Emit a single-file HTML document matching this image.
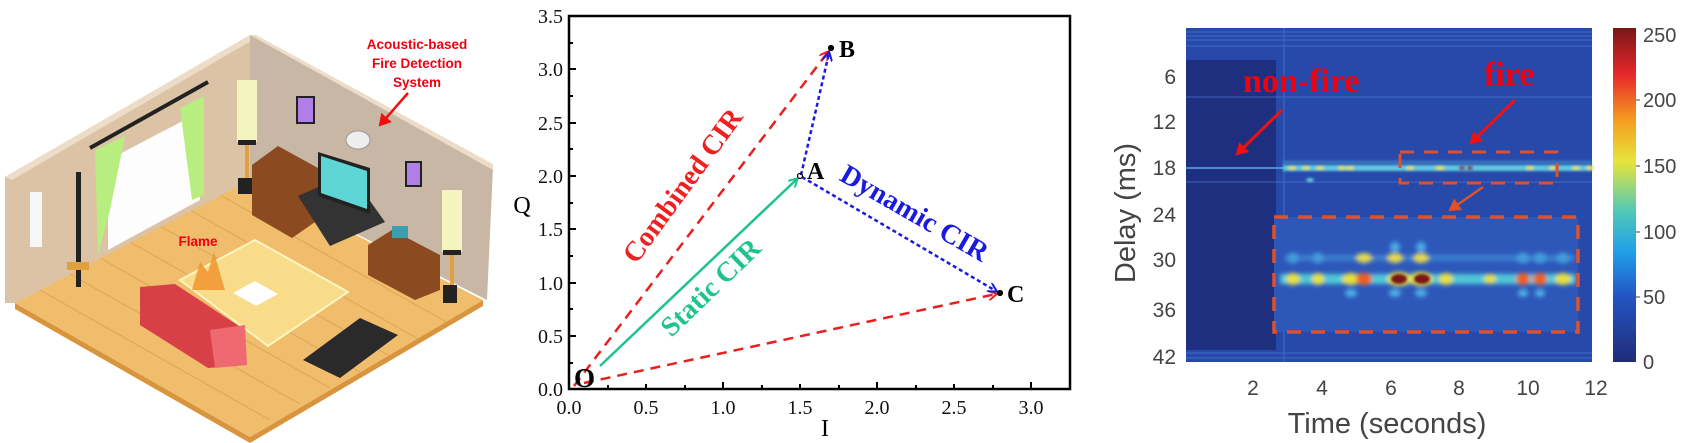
<!DOCTYPE html>
<html><head><meta charset="utf-8"><style>
html,body{margin:0;padding:0;background:#fff;}
svg{display:block;}
</style></head><body>
<svg width="1693" height="443" viewBox="0 0 1693 443" xmlns="http://www.w3.org/2000/svg">
<defs>
<filter id="bl" x="-50%" y="-50%" width="200%" height="200%"><feGaussianBlur stdDeviation="2.2"/></filter>
<filter id="bl1" x="-50%" y="-50%" width="200%" height="200%"><feGaussianBlur stdDeviation="1.2"/></filter>
<linearGradient id="cb" x1="0" y1="1" x2="0" y2="0">
<stop offset="0" stop-color="#202c78"/><stop offset="0.2" stop-color="#2356c4"/><stop offset="0.33" stop-color="#20a0e8"/><stop offset="0.45" stop-color="#50c8b8"/><stop offset="0.6" stop-color="#e6e43c"/><stop offset="0.72" stop-color="#f5a020"/><stop offset="0.86" stop-color="#e8282a"/><stop offset="1" stop-color="#7a1618"/>
</linearGradient>
<marker id="ar" markerWidth="10" markerHeight="10" refX="8" refY="5" orient="auto" markerUnits="userSpaceOnUse"><path d="M0,0 L9,5 L0,10" fill="none" stroke="#e8201e" stroke-width="2"/></marker>
<marker id="ab" markerWidth="10" markerHeight="10" refX="8" refY="5" orient="auto" markerUnits="userSpaceOnUse"><path d="M0,0 L9,5 L0,10" fill="none" stroke="#1a1ae0" stroke-width="2"/></marker>
<marker id="ag" markerWidth="10" markerHeight="10" refX="8" refY="5" orient="auto" markerUnits="userSpaceOnUse"><path d="M0,0 L9,5 L0,10" fill="none" stroke="#1ec48a" stroke-width="2"/></marker>
<marker id="arr" markerWidth="14" markerHeight="14" refX="10" refY="7" orient="auto" markerUnits="userSpaceOnUse"><path d="M0,0 L12,7 L0,14 Z" fill="#f01010"/></marker>
<marker id="aro" markerWidth="14" markerHeight="14" refX="10" refY="7" orient="auto" markerUnits="userSpaceOnUse"><path d="M0,0 L12,7 L0,14 Z" fill="#e0502a"/></marker>
</defs>

<!-- ===== LEFT ROOM ===== -->
<g>
<polygon points="15,303 250,437 483,300 483,306 250,443 15,309" fill="#d9953e"/>
<polygon points="15,303 248,180 483,300 250,437" fill="#f0bd6c"/>
<g stroke="#d8a050" stroke-width="1" opacity="0.8">
<line x1="40" y1="290" x2="270" y2="420"/><line x1="70" y1="274" x2="300" y2="404"/><line x1="100" y1="258" x2="330" y2="388"/><line x1="130" y1="242" x2="360" y2="372"/><line x1="160" y1="226" x2="390" y2="356"/><line x1="190" y1="210" x2="420" y2="340"/><line x1="220" y1="195" x2="450" y2="324"/>
</g>
<polygon points="5,177 250,35 250,180 15,303 5,303" fill="#dcc3a6"/>
<polygon points="5,177 250,35 256,38 12,180" fill="#ecdcc8"/>
<polygon points="250,35 493,167 487,300 250,180" fill="#c8b7a5"/>
<polygon points="250,35 256,35 493,164 493,170" fill="#ecdcc8"/>
<polygon points="108,160 200,112 200,200 108,250" fill="#fdfdfd"/>
<line x1="90" y1="148" x2="208" y2="82" stroke="#222" stroke-width="4"/>
<polygon points="95,150 125,136 110,210 98,255" fill="#b8ee80"/>
<polygon points="180,108 204,96 204,195 192,200" fill="#b8ee80"/>
<rect x="76" y="172" width="5" height="115" fill="#222"/>
<rect x="67" y="262" width="22" height="8" fill="#e0a040"/>
<rect x="30" y="192" width="12" height="55" fill="#f6f6f6"/>
<rect x="237" y="80" width="20" height="62" fill="#f4f4c0"/><rect x="238" y="140" width="18" height="5" fill="#222"/><rect x="245" y="145" width="4" height="35" fill="#e0a040"/><rect x="238" y="178" width="14" height="16" fill="#222"/>
<rect x="442" y="190" width="20" height="62" fill="#f4f4c0"/><rect x="443" y="250" width="18" height="5" fill="#222"/><rect x="450" y="255" width="4" height="30" fill="#e0a040"/><rect x="443" y="285" width="14" height="18" fill="#222"/>
<rect x="297" y="97" width="17" height="26" fill="#b07ee6" stroke="#222" stroke-width="2"/>
<rect x="406" y="162" width="15" height="24" fill="#b07ee6" stroke="#222" stroke-width="2"/>
<ellipse cx="358" cy="140" rx="12" ry="9" fill="#eee" stroke="#999"/>
<polygon points="252,165 278,146 318,168 318,220 292,238 252,215" fill="#8b4a1f"/>
<polygon points="368,245 392,230 440,255 440,290 415,300 368,275" fill="#8b4a1f"/>
<rect x="392" y="226" width="16" height="12" fill="#3aa0b0"/>
<polygon points="298,196 350,173 385,222 330,246" fill="#333"/>
<polygon points="318,152 370,168 370,214 318,196" fill="#222"/>
<polygon points="321,156 367,171 367,209 321,193" fill="#5fd6d6"/>
<polygon points="180,280 255,240 348,292 268,346" fill="#f8dc8a" stroke="#fff5c0" stroke-width="2"/>
<polygon points="233,293 255,281 278,294 256,306" fill="#fff"/>
<path d="M192,290 L200,262 L208,272 L214,252 L222,280 L225,290 Z" fill="#f0902a" opacity="0.8"/>
<polygon points="140,287 175,284 245,330 245,365 208,368 140,325" fill="#d84048"/>
<polygon points="210,330 245,325 247,365 215,368" fill="#ee6a70"/>
<polygon points="303,360 360,318 398,335 340,378" fill="#2a2a2a"/>
<g font-family="Liberation Sans, sans-serif" font-weight="bold" fill="#f00010" font-size="13.5" text-anchor="middle">
<text x="417" y="49">Acoustic-based</text>
<text x="417" y="68">Fire Detection</text>
<text x="417" y="87">System</text>
<text x="198" y="246">Flame</text>
</g>
<line x1="408" y1="93" x2="380" y2="125" stroke="#f01010" stroke-width="2.5" marker-end="url(#arr)"/>
</g>

<!-- ===== MIDDLE CHART ===== -->
<g font-family="Liberation Serif, serif">
<rect x="569" y="16" width="501" height="373" fill="none" stroke="#000" stroke-width="2.5"/>
<g stroke="#000" stroke-width="2">
<line x1="569" y1="389" x2="569" y2="382"/><line x1="646" y1="389" x2="646" y2="384"/><line x1="723" y1="389" x2="723" y2="382"/><line x1="800" y1="389" x2="800" y2="384"/><line x1="877" y1="389" x2="877" y2="382"/><line x1="954" y1="389" x2="954" y2="384"/><line x1="1031" y1="389" x2="1031" y2="382"/>
<line x1="608" y1="389" x2="608" y2="385"/><line x1="685" y1="389" x2="685" y2="385"/><line x1="762" y1="389" x2="762" y2="385"/><line x1="839" y1="389" x2="839" y2="385"/><line x1="916" y1="389" x2="916" y2="385"/><line x1="993" y1="389" x2="993" y2="385"/>
<line x1="569" y1="336" x2="576" y2="336"/><line x1="569" y1="283" x2="576" y2="283"/><line x1="569" y1="229" x2="576" y2="229"/><line x1="569" y1="176" x2="576" y2="176"/><line x1="569" y1="123" x2="576" y2="123"/><line x1="569" y1="69" x2="576" y2="69"/>
<line x1="569" y1="363" x2="573" y2="363"/><line x1="569" y1="309" x2="573" y2="309"/><line x1="569" y1="256" x2="573" y2="256"/><line x1="569" y1="203" x2="573" y2="203"/><line x1="569" y1="149" x2="573" y2="149"/><line x1="569" y1="96" x2="573" y2="96"/><line x1="569" y1="43" x2="573" y2="43"/>
</g>
<g font-size="20" text-anchor="middle" fill="#111">
<text x="569" y="414">0.0</text><text x="646" y="414">0.5</text><text x="723" y="414">1.0</text><text x="800" y="414">1.5</text><text x="877" y="414">2.0</text><text x="954" y="414">2.5</text><text x="1031" y="414">3.0</text>
</g>
<g font-size="20" text-anchor="end" fill="#111">
<text x="563" y="396">0.0</text><text x="563" y="343">0.5</text><text x="563" y="290">1.0</text><text x="563" y="236">1.5</text><text x="563" y="183">2.0</text><text x="563" y="130">2.5</text><text x="563" y="76">3.0</text><text x="563" y="23">3.5</text>
</g>
<text x="522" y="213" font-size="24" text-anchor="middle">Q</text>
<text x="825" y="436" font-size="24" text-anchor="middle">I</text>
<line x1="574" y1="386" x2="828" y2="52" stroke="#e8201e" stroke-width="2.5" stroke-dasharray="10,7" marker-end="url(#ar)"/>
<line x1="584" y1="383" x2="996" y2="294" stroke="#e8201e" stroke-width="2.5" stroke-dasharray="10,7" marker-end="url(#ar)"/>
<line x1="600" y1="366" x2="797" y2="179" stroke="#1ec48a" stroke-width="2.5" marker-end="url(#ag)"/>
<line x1="801" y1="175" x2="829" y2="53" stroke="#1a1ae0" stroke-width="2.5" stroke-dasharray="4,3" marker-end="url(#ab)"/>
<line x1="802" y1="177" x2="996" y2="291" stroke="#1a1ae0" stroke-width="2.5" stroke-dasharray="4,3" marker-end="url(#ab)"/>
<circle cx="800" cy="176" r="2.5" fill="none" stroke="#000" stroke-width="1.2"/>
<circle cx="831" cy="48" r="2.5" fill="#000" stroke="#000" stroke-width="1.2"/>
<circle cx="1000" cy="293" r="2.5" fill="#000" stroke="#000" stroke-width="1.2"/>
<g font-weight="bold" font-size="24" fill="#000">
<text x="574" y="387" font-size="27">O</text>
<text x="807" y="179">A</text>
<text x="839" y="57">B</text>
<text x="1007" y="302">C</text>
</g>
<text x="0" y="0" font-weight="bold" font-size="28" fill="#ee2020" text-anchor="middle" transform="translate(690,191) rotate(-54)">Combined CIR</text>
<text x="0" y="0" font-weight="bold" font-size="28" fill="#1ec48a" text-anchor="middle" transform="translate(717,294) rotate(-44)">Static CIR</text>
<text x="0" y="0" font-weight="bold" font-size="28" fill="#1a1ae0" text-anchor="middle" transform="translate(910,221) rotate(30)">Dynamic CIR</text>
</g>

<!-- ===== RIGHT HEATMAP ===== -->
<g>
<rect x="1186" y="28" width="406" height="334" fill="#2749aa"/>
<rect x="1186" y="60" width="90" height="290" fill="#1f2f80"/>
<g stroke="#4a78d0" stroke-width="1" opacity="0.7">
<line x1="1186" y1="32" x2="1592" y2="32"/><line x1="1186" y1="36" x2="1592" y2="36"/><line x1="1186" y1="40" x2="1592" y2="40"/><line x1="1186" y1="46" x2="1592" y2="46"/><line x1="1186" y1="97" x2="1592" y2="97"/><line x1="1186" y1="353" x2="1592" y2="353"/><line x1="1186" y1="358" x2="1592" y2="358"/><line x1="1186" y1="182" x2="1592" y2="182"/>
<line x1="1284" y1="28" x2="1284" y2="362"/>
</g>
<line x1="1186" y1="168" x2="1592" y2="168" stroke="#5aa8e8" stroke-width="1.5"/>
<g filter="url(#bl1)">
<rect x="1283" y="165" width="309" height="6" fill="#60c8e0"/>
<g fill="#e6e040">
<ellipse cx="1292" cy="168" rx="4" ry="2"/><ellipse cx="1306" cy="168" rx="4" ry="2"/><ellipse cx="1320" cy="168" rx="4" ry="2"/><ellipse cx="1342" cy="168" rx="4" ry="2"/><ellipse cx="1350" cy="168" rx="4" ry="2"/><ellipse cx="1410" cy="168" rx="4" ry="2"/><ellipse cx="1440" cy="168" rx="5" ry="2"/><ellipse cx="1530" cy="168" rx="4" ry="2"/><ellipse cx="1553" cy="168" rx="4" ry="2"/><ellipse cx="1576" cy="168" rx="4" ry="2"/><ellipse cx="1590" cy="168" rx="4" ry="2"/>
</g>
<ellipse cx="1462" cy="168" rx="3" ry="2" fill="#7a1618"/><ellipse cx="1470" cy="168" rx="3" ry="2" fill="#7a1618"/>
<rect x="1283" y="161" width="309" height="2" fill="#5ab0e0" opacity="0.6"/>
<ellipse cx="1310" cy="180" rx="4" ry="2" fill="#60d0e0"/>
</g>
<rect x="1274" y="217" width="304" height="115" fill="#2d58ba"/>
<g filter="url(#bl)">
<g fill="#50b8e8" opacity="0.9">
<ellipse cx="1395" cy="247" rx="5" ry="5"/><ellipse cx="1421" cy="247" rx="5" ry="5"/>
<ellipse cx="1293" cy="258" rx="6" ry="5"/><ellipse cx="1318" cy="258" rx="6" ry="5"/><ellipse cx="1523" cy="258" rx="7" ry="5"/><ellipse cx="1540" cy="258" rx="7" ry="5"/><ellipse cx="1563" cy="258" rx="7" ry="5"/>
<ellipse cx="1351" cy="293" rx="6" ry="4"/><ellipse cx="1395" cy="293" rx="6" ry="4"/><ellipse cx="1421" cy="293" rx="6" ry="4"/><ellipse cx="1523" cy="293" rx="5" ry="4"/><ellipse cx="1540" cy="293" rx="5" ry="4"/>
</g>
<rect x="1285" y="255" width="290" height="6" fill="#3f90d8" opacity="0.7"/>
<g fill="#e4d850">
<ellipse cx="1364" cy="258" rx="8" ry="5"/><ellipse cx="1395" cy="258" rx="8" ry="5"/><ellipse cx="1421" cy="258" rx="8" ry="5"/>
</g>
<rect x="1280" y="274" width="296" height="10" fill="#50c8d8"/>
<g fill="#e6e040">
<ellipse cx="1293" cy="279" rx="7" ry="6"/><ellipse cx="1318" cy="279" rx="6" ry="6"/><ellipse cx="1351" cy="279" rx="9" ry="6"/><ellipse cx="1446" cy="279" rx="7" ry="6"/><ellipse cx="1490" cy="279" rx="6" ry="5"/><ellipse cx="1563" cy="279" rx="8" ry="6"/>
</g>
<g fill="#f06020">
<ellipse cx="1364" cy="279" rx="8" ry="6"/><ellipse cx="1523" cy="279" rx="7" ry="6"/><ellipse cx="1540" cy="279" rx="7" ry="6"/>
</g>
<ellipse cx="1399" cy="279" rx="12" ry="7" fill="#e0e040"/><ellipse cx="1421" cy="279" rx="12" ry="7" fill="#e0e040"/>
</g>
<ellipse cx="1399" cy="279" rx="8" ry="5" fill="#7a1618" filter="url(#bl1)"/><ellipse cx="1422" cy="279" rx="8" ry="5" fill="#7a1618" filter="url(#bl1)"/>
<rect x="1400" y="152" width="157" height="31" fill="none" stroke="#e0502a" stroke-width="3" stroke-dasharray="14,10"/>
<rect x="1274" y="217" width="304" height="115" fill="none" stroke="#e0502a" stroke-width="3.5" stroke-dasharray="14,10"/>
<line x1="1483" y1="187" x2="1450" y2="210" stroke="#e0502a" stroke-width="2.5" marker-end="url(#aro)"/>
<g font-family="Liberation Serif, serif" font-weight="bold" fill="#f00010" font-size="34">
<text x="1243" y="92">non-fire</text>
<text x="1484" y="85">fire</text>
</g>
<line x1="1282" y1="110" x2="1237" y2="154" stroke="#f01010" stroke-width="3" marker-end="url(#arr)"/>
<line x1="1515" y1="100" x2="1471" y2="143" stroke="#f01010" stroke-width="3" marker-end="url(#arr)"/>
<rect x="1613" y="28" width="23" height="334" fill="url(#cb)"/>
<g stroke="#444" stroke-width="1"><line x1="1636" y1="100" x2="1640" y2="100"/><line x1="1636" y1="166" x2="1640" y2="166"/><line x1="1636" y1="232" x2="1640" y2="232"/><line x1="1636" y1="297" x2="1640" y2="297"/></g>
<g font-family="Liberation Sans, sans-serif" font-size="20" fill="#444">
<text x="1643" y="42">250</text><text x="1643" y="107">200</text><text x="1643" y="173">150</text><text x="1643" y="239">100</text><text x="1643" y="304">50</text><text x="1643" y="369">0</text>
</g>
<g font-family="Liberation Sans, sans-serif" font-size="21" fill="#444" text-anchor="end">
<text x="1176" y="84">6</text><text x="1176" y="129">12</text><text x="1176" y="175">18</text><text x="1176" y="222">24</text><text x="1176" y="267">30</text><text x="1176" y="317">36</text><text x="1176" y="364">42</text>
</g>
<g font-family="Liberation Sans, sans-serif" font-size="21" fill="#444" text-anchor="middle">
<text x="1253" y="395">2</text><text x="1322" y="395">4</text><text x="1391" y="395">6</text><text x="1459" y="395">8</text><text x="1528" y="395">10</text><text x="1596" y="395">12</text>
<text x="1387" y="433" font-size="29">Time (seconds)</text>
</g>
<text x="0" y="0" font-family="Liberation Sans, sans-serif" font-size="29" fill="#444" text-anchor="middle" transform="translate(1135,213) rotate(-90)">Delay (ms)</text>
</g>
</svg>
</body></html>
